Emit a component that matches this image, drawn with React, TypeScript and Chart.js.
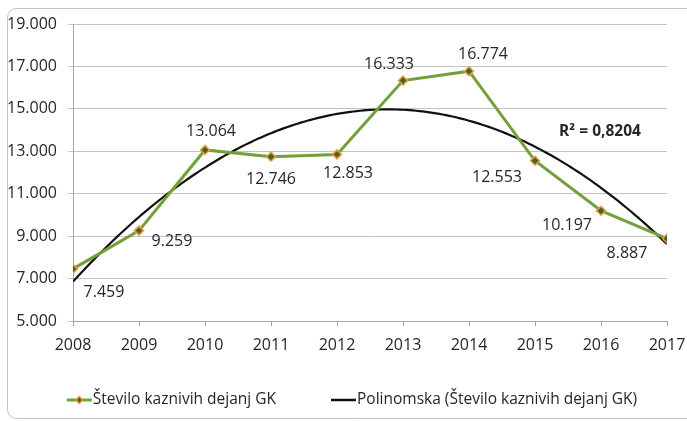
import React, { useEffect, useRef } from "react";
import { Chart, registerables } from "chart.js";

Chart.register(...registerables);

// ---- data ----
const years = [2008, 2009, 2010, 2011, 2012, 2013, 2014, 2015, 2016, 2017];
const values = [7459, 9259, 13064, 12746, 12853, 16333, 16774, 12553, 10197, 8887];
const yMin = 5000;
const yMax = 19000;
const yStep = 2000;
const seriesName = "Število kaznivih dejanj GK";
const trendName = "Polinomska (Število kaznivih dejanj GK)";
const r2Text = "R² = 0,8204";

const FONT = '"Open Sans", "Noto Sans", sans-serif';
const TEXT = "#262626";
const GREEN = "#74a03a";
const MARKER_FILL = "#3b6a25";
const MARKER_BORDER = "#f79646";

function fmt(n: number): string {
  return String(Math.round(n)).replace(/\B(?=(\d{3})+(?!\d))/g, ".");
}

// least-squares quadratic fit (what the spreadsheet's polynomial trendline does)
function fitQuadratic(xs: number[], ys: number[]): number[] {
  const S = [0, 0, 0, 0, 0];
  const T = [0, 0, 0];
  for (let i = 0; i < xs.length; i++) {
    let p = 1;
    for (let k = 0; k < 5; k++) {
      S[k] += p;
      if (k < 3) T[k] += p * ys[i];
      p *= xs[i];
    }
  }
  const M = [
    [S[0], S[1], S[2], T[0]],
    [S[1], S[2], S[3], T[1]],
    [S[2], S[3], S[4], T[2]],
  ];
  for (let c = 0; c < 3; c++) {
    let piv = c;
    for (let r = c + 1; r < 3; r++) if (Math.abs(M[r][c]) > Math.abs(M[piv][c])) piv = r;
    [M[c], M[piv]] = [M[piv], M[c]];
    for (let r = 0; r < 3; r++) {
      if (r === c) continue;
      const f = M[r][c] / M[c][c];
      for (let k = c; k < 4; k++) M[r][k] -= f * M[c][k];
    }
  }
  return [M[0][3] / M[0][0], M[1][3] / M[1][1], M[2][3] / M[2][2]];
}

// label placement relative to each point (px)
const labelOffsets: [number, number][] = [
  [31, 24], [33, 11], [6, -18], [0, 23], [11, 19],
  [-14, -16], [14, -17], [-38, 17], [-34, 15], [-40, 15],
];

export default function App() {
  const ref = useRef<HTMLCanvasElement>(null);

  useEffect(() => {
    if (!ref.current) return;
    const x0 = years[0];
    const coef = fitQuadratic(years.map((y) => y - x0), values);
    const trend: { x: number; y: number }[] = [];
    const span = years[years.length - 1] - x0;
    for (let i = 0; i <= span * 20; i++) {
      const t = i / 20;
      trend.push({ x: x0 + t, y: coef[0] + coef[1] * t + coef[2] * t * t });
    }

    const decor = {
      id: "decor",
      beforeDraw(chart: any) {
        const ctx = chart.ctx;
        ctx.save();
        ctx.fillStyle = "#ffffff";
        ctx.fillRect(0, 0, chart.width, chart.height);
        ctx.strokeStyle = "#c4c4c4";
        ctx.lineWidth = 1;
        ctx.beginPath();
        (ctx as any).roundRect(7.5, 8.5, 700, 410, 9);
        ctx.stroke();
        ctx.restore();
      },
      afterDatasetsDraw(chart: any) {
        const ctx = chart.ctx;
        const meta = chart.getDatasetMeta(0);
        ctx.save();
        ctx.font = `16px ${FONT}`;
        ctx.fillStyle = TEXT;
        ctx.textAlign = "center";
        ctx.textBaseline = "middle";
        meta.data.forEach((pt: any, i: number) => {
          const [dx, dy] = labelOffsets[i];
          ctx.fillText(fmt(values[i]), pt.x + dx, pt.y + dy);
        });
        ctx.font = `bold 15.5px ${FONT}`;
        ctx.fillText(r2Text, 600, 132);
        ctx.restore();
      },
      afterDraw(chart: any) {
        const ctx = chart.ctx;
        ctx.save();
        ctx.font = `15.5px ${FONT}`;
        ctx.fillStyle = TEXT;
        ctx.textBaseline = "middle";
        const lineLen = 25;
        const gapText = 1;
        const gapItems = 55;
        const w1 = ctx.measureText(seriesName).width;
        const w2 = ctx.measureText(trendName).width;
        const total = lineLen + gapText + w1 + gapItems + lineLen + gapText + w2;
        let x = 352 - total / 2;
        const y = 400;
        // item 1
        ctx.strokeStyle = GREEN;
        ctx.lineWidth = 3;
        ctx.beginPath();
        ctx.moveTo(x, y);
        ctx.lineTo(x + lineLen, y);
        ctx.stroke();
        const cx = x + lineLen / 2;
        ctx.beginPath();
        ctx.moveTo(cx, y - 3.5);
        ctx.lineTo(cx + 3.5, y);
        ctx.lineTo(cx, y + 3.5);
        ctx.lineTo(cx - 3.5, y);
        ctx.closePath();
        ctx.fillStyle = MARKER_FILL;
        ctx.fill();
        ctx.strokeStyle = MARKER_BORDER;
        ctx.lineWidth = 1.5;
        ctx.stroke();
        x += lineLen + gapText;
        ctx.fillStyle = TEXT;
        ctx.fillText(seriesName, x, y);
        x += w1 + gapItems;
        // item 2
        ctx.strokeStyle = "#111111";
        ctx.lineWidth = 2.5;
        ctx.beginPath();
        ctx.moveTo(x, y);
        ctx.lineTo(x + lineLen, y);
        ctx.stroke();
        x += lineLen + gapText;
        ctx.fillText(trendName, x, y);
        ctx.restore();
      },
    };

    const chart = new Chart(ref.current, {
      type: "line",
      data: {
        datasets: [
          {
            label: seriesName,
            data: years.map((yr, i) => ({ x: yr, y: values[i] })),
            borderColor: GREEN,
            borderWidth: 3,
            pointStyle: "rectRot",
            pointRadius: 4.5,
            pointBackgroundColor: MARKER_FILL,
            pointBorderColor: MARKER_BORDER,
            pointBorderWidth: 1.5,
            tension: 0,
          },
          {
            label: trendName,
            data: trend,
            borderColor: "#111111",
            borderWidth: 2.2,
            pointRadius: 0,
            tension: 0,
          },
        ],
      },
      options: {
        responsive: false,
        animation: false,
        events: [],
        layout: { padding: { left: 0, right: 0, top: 24, bottom: 0 } },
        plugins: {
          legend: { display: false },
          tooltip: { enabled: false },
        },
        scales: {
          x: {
            type: "linear",
            min: years[0],
            max: years[years.length - 1],
            ticks: {
              stepSize: 1,
              autoSkip: false,
              maxRotation: 0,
              padding: 10,
              color: TEXT,
              font: { family: FONT, size: 16 },
              callback: (v: any) => String(v),
            },
            grid: { drawOnChartArea: false, drawTicks: true, tickLength: 5, color: "#a6a6a6" },
            border: { color: "#a6a6a6" },
            afterFit: (s: any) => {
              s.height = 100;
              s.paddingRight = 20;
              s.paddingLeft = 0;
            },
          },
          y: {
            min: yMin,
            max: yMax,
            ticks: {
              stepSize: yStep,
              padding: 11,
              color: TEXT,
              font: { family: FONT, size: 16 },
              callback: (v: any) => fmt(Number(v)),
            },
            grid: { color: "#c4c4c4", tickLength: 5 },
            border: { color: "#a6a6a6" },
            afterFit: (s: any) => {
              s.width = 73;
            },
          },
        },
      },
      plugins: [decor],
    } as any);

    return () => chart.destroy();
  }, []);

  return (
    <div style={{ position: "absolute", left: 0, top: 0, width: 687, height: 421 }}>
      <canvas ref={ref} width={687} height={421} style={{ display: "block", width: 687, height: 421 }} />
    </div>
  );
}
